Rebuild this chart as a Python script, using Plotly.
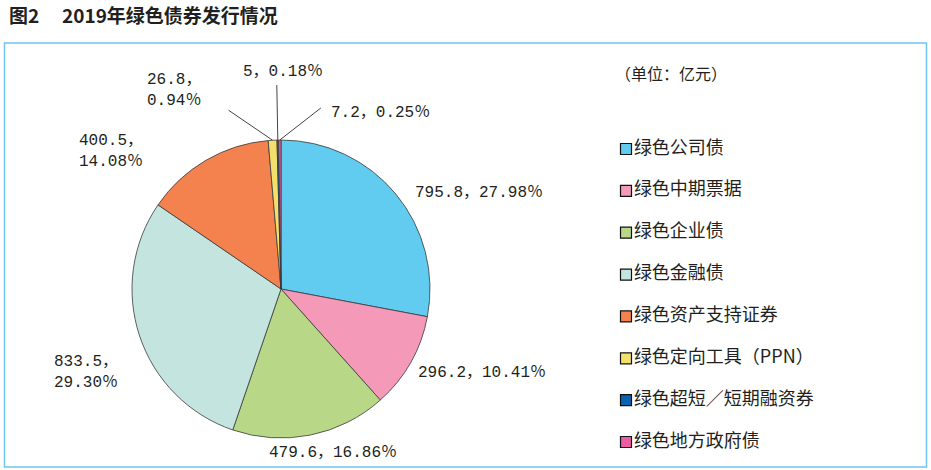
import math
import plotly.graph_objects as go

# ---------------- data ----------------
categories = ["绿色公司债", "绿色中期票据", "绿色企业债", "绿色金融债",
              "绿色资产支持证券", "绿色定向工具（PPN）", "绿色超短／短期融资券", "绿色地方政府债"]
values = [795.8, 296.2, 479.6, 833.5, 400.5, 26.8, 5, 7.2]
percent_labels = ["27.98", "10.41", "16.86", "29.30", "14.08", "0.94", "0.18", "0.25"]
colors = ["#62CBF0", "#F49AB8", "#B8D888", "#C4E5DF", "#F4824E", "#F3E06C", "#0A62B0", "#EE5BA5"]

title_prefix = "图2"
title_text = "2019年绿色债券发行情况"
unit_text = "（单位：亿元）"

# ---------------- layout / style ----------------
W, H = 931, 470
CX, CY, R = 281, 289, 149           # pie centre / radius in px
TEXT_COLOR = "#231F20"
LABEL_FONT = dict(family="Liberation Mono, Noto Sans CJK SC", size=16, color=TEXT_COLOR)
CJK = "Noto Sans CJK SC"

# label placement relative to slice-edge midpoint: (dx, dy, xanchor, two_lines)
label_style = [
    (17, -1, "left", False),
    (5, 11, "left", False),
    (22, 18, "center", False),
    (-20, 37, "right", True),
    (-61, -9, "right", True),
    (-70, -50, "right", True),
    (5, -68, "center", False),
    (49, -27, "left", False),
]
# leader lines for tiny slices: index -> (dx, dy) end offset from edge point
leader_style = {5: (-44, -30), 6: (-1, -55), 7: (41, -32)}


def paper(x, y):
    return x / W, 1 - y / H


total = sum(values)
cum = 0.0
edge_pts = []
for v in values:
    mid = (cum + v / 2) / total * 2 * math.pi
    cum += v
    edge_pts.append((CX + R * math.sin(mid), CY - R * math.cos(mid)))

fig = go.Figure()

fig.add_trace(go.Pie(
    labels=categories, values=values, sort=False, direction="clockwise",
    rotation=0, textinfo="none", showlegend=False, hoverinfo="label+value+percent",
    marker=dict(colors=colors, line=dict(color="#3a3a3a", width=0.8)),
    domain=dict(x=[(CX - R) / W, (CX + R) / W], y=[1 - (CY + R) / H, 1 - (CY - R) / H]),
))

# legend drawn as a scatter on hidden axes
n = len(categories)
fig.add_trace(go.Scatter(
    x=[0] * n, y=list(range(n)), mode="markers+text",
    text=categories, textposition="middle right",
    textfont=dict(family=CJK, size=18, color=TEXT_COLOR),
    marker=dict(symbol="square", size=11, color=colors, line=dict(color="#111", width=1.2)),
    cliponaxis=False, showlegend=False, hoverinfo="skip",
))

annotations = []
shapes = []
for i, (v, p) in enumerate(zip(values, percent_labels)):
    dx, dy, xa, two = label_style[i]
    ex, ey = edge_pts[i]
    sep = "，<br>" if two else "，"
    txt = f"{v:g}{sep}{p}％"
    x, y = paper(ex + dx, ey + dy)
    annotations.append(dict(x=x, y=y, xref="paper", yref="paper", text=txt, showarrow=False,
                            xanchor=xa, yanchor="middle", align="left", font=LABEL_FONT))
    if i in leader_style:
        lx, ly = leader_style[i]
        x0, y0 = paper(ex, ey)
        x1, y1 = paper(ex + lx, ey + ly)
        shapes.append(dict(type="line", xref="paper", yref="paper", x0=x0, y0=y0, x1=x1, y1=y1,
                           line=dict(color="#444", width=1)))

# title + unit
tx, ty = paper(7, 14)
annotations.append(dict(x=tx, y=ty, xref="paper", yref="paper", text=f"<b>{title_prefix}</b>",
                        showarrow=False, xanchor="left", yanchor="middle",
                        font=dict(family=CJK, size=19, color=TEXT_COLOR)))
tx, ty = paper(60, 14)
annotations.append(dict(x=tx, y=ty, xref="paper", yref="paper", text=f"<b>{title_text}</b>",
                        showarrow=False, xanchor="left", yanchor="middle",
                        font=dict(family=CJK, size=19, color=TEXT_COLOR)))
ux, uy = paper(613, 73)
annotations.append(dict(x=ux, y=uy, xref="paper", yref="paper", text=unit_text,
                        showarrow=False, xanchor="left", yanchor="middle",
                        font=dict(family=CJK, size=16, color=TEXT_COLOR)))

# frame
bx0, by0 = paper(4.5, 43)
bx1, by1 = paper(926.5, 467)
shapes.append(dict(type="rect", xref="paper", yref="paper", x0=bx0, y0=by1, x1=bx1, y1=by0,
                   line=dict(color="#6EC6EE", width=1.5), layer="below"))

fig.update_layout(
    width=W, height=H, margin=dict(l=0, r=0, t=0, b=0),
    paper_bgcolor="white", plot_bgcolor="rgba(0,0,0,0)",
    xaxis=dict(domain=[626 / W, 0.99], range=[0, 1], visible=False, fixedrange=True),
    yaxis=dict(domain=[1 - 442 / H, 1 - 149 / H], range=[n - 1, 0], visible=False, fixedrange=True),
    annotations=annotations, shapes=shapes, showlegend=False,
)

fig.write_html("out.html")
